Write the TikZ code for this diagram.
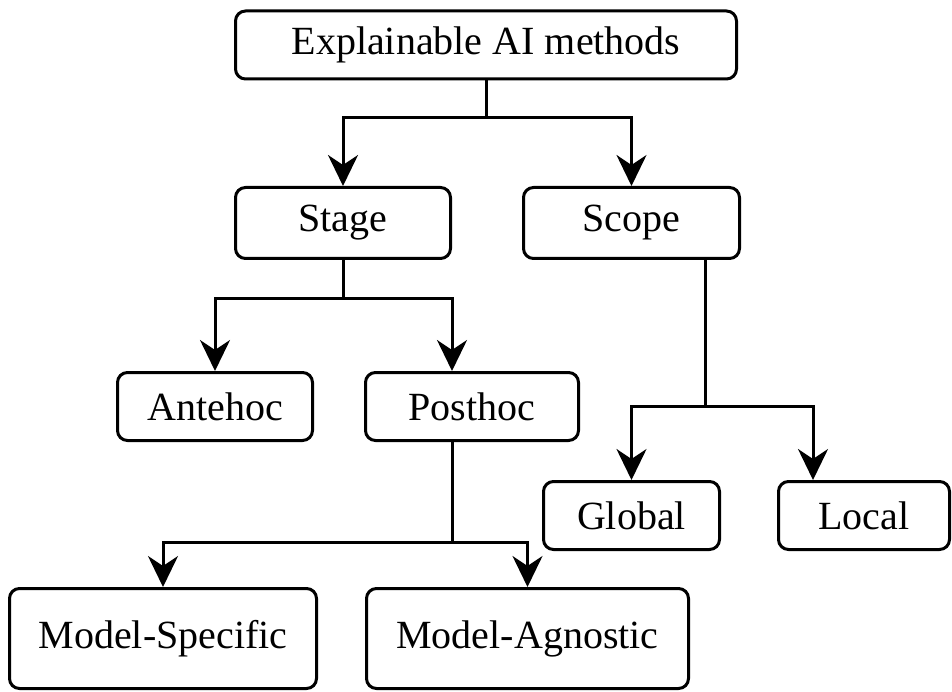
\documentclass[tikz,border=0pt]{standalone}
\usepackage{fontspec}
\setmainfont{Liberation Serif}
\usetikzlibrary{arrows.meta,calc}

\tikzset{
  box/.style={draw, line width=3pt, rounded corners=10pt, inner sep=0pt,
    font=\fontsize{40pt}{48pt}\selectfont},
  link/.style={line width=3pt},
  arrowlink/.style={line width=3pt, -{Stealth[length=31pt,width=30pt,inset=10pt]}}
}

\begin{document}
\begin{tikzpicture}[x=1pt,y=-1pt]
  \fill[white] (0,0) rectangle (952,692);
  \useasboundingbox (0,0) rectangle (952,692);

  % boxes
  \node[box, minimum width=501pt, minimum height=68pt] (xai)    at (486,45)    {Explainable AI methods};
  \node[box, minimum width=215pt, minimum height=71pt] (stage)  at (343,223)   {Stage};
  \node[box, minimum width=216pt, minimum height=71pt] (scope)  at (631.5,223) {Scope};
  \node[box, minimum width=195pt, minimum height=68pt] (ante)   at (215,406.5) {Antehoc};
  \node[box, minimum width=213pt, minimum height=68pt] (post)   at (472,406.5) {Posthoc};
  \node[box, minimum width=176pt, minimum height=68pt] (global) at (631.5,515.5){Global};
  \node[box, minimum width=171pt, minimum height=68pt] (local)  at (864,515.5) {Local};
  \node[box, minimum width=307pt, minimum height=100pt] (mspec) at (163,638.5) {Model-Specific};
  \node[box, minimum width=322pt, minimum height=100pt] (magn)  at (527.5,638.5){Model-Agnostic};

  % junction points of the tree connectors
  \coordinate (j1) at (486,118);
  \coordinate (j2) at (343,299);
  \coordinate (j3) at (705,406);
  \coordinate (j4) at (452,542);

  % root -> stage / scope
  \draw[link] (xai.south) -- (j1);
  \draw[arrowlink] (j1) -| (stage.north);
  \draw[arrowlink] (j1) -| (scope.north);

  % stage -> antehoc / posthoc
  \draw[link] (stage.south) -- (j2);
  \draw[arrowlink] (j2) -| (ante.north);
  \draw[arrowlink] (j2) -| ($(post.north)+(-20,0)$);

  % scope -> global / local
  \draw[link] ($(scope.south)+(73.5,0)$) -- (j3);
  \draw[arrowlink] (j3) -| (global.north);
  \draw[arrowlink] (j3) -| ($(local.north)+(-51,0)$);

  % posthoc -> model-specific / model-agnostic
  \draw[link] ($(post.south)+(-20,0)$) -- (j4);
  \draw[arrowlink] (j4) -| (mspec.north);
  \draw[arrowlink] (j4) -| (magn.north);
\end{tikzpicture}
\end{document}
